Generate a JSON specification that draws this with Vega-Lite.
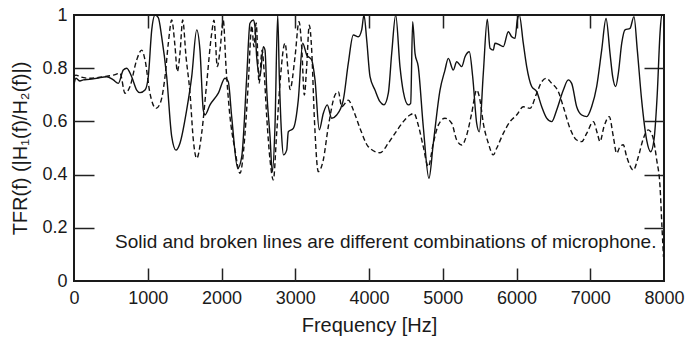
{
  "$schema": "https://vega.github.io/schema/vega-lite/v6.json",
  "width": 590,
  "height": 266,
  "autosize": {"type": "none"},
  "padding": {"left": 74, "top": 15, "right": 22, "bottom": 58},
  "background": "white",
  "datasets": {
    "solid": [
      {"f":0,"v":0.74},{"f":27,"v":0.762},{"f":81,"v":0.752},{"f":126,"v":0.756},{"f":210,"v":0.758},{"f":308,"v":0.762},{"f":443,"v":0.768},{"f":533,"v":0.756},{"f":601,"v":0.743},{"f":668,"v":0.793},{"f":715,"v":0.8},{"f":782,"v":0.768},{"f":850,"v":0.718},{"f":895,"v":0.708},{"f":963,"v":0.718},{"f":1007,"v":0.768},{"f":1054,"v":0.944},{"f":1098,"v":1.0},{"f":1143,"v":0.99},{"f":1189,"v":0.918},{"f":1257,"v":0.768},{"f":1325,"v":0.543},{"f":1383,"v":0.492},{"f":1437,"v":0.518},{"f":1528,"v":0.643},{"f":1596,"v":0.768},{"f":1664,"v":0.944},{"f":1708,"v":0.868},{"f":1753,"v":0.643},{"f":1776,"v":0.624},{"f":1844,"v":0.662},{"f":1957,"v":0.706},{"f":2047,"v":0.762},{"f":2092,"v":0.749},{"f":2138,"v":0.618},{"f":2220,"v":0.424},{"f":2274,"v":0.467},{"f":2342,"v":0.768},{"f":2386,"v":0.969},{"f":2431,"v":0.981},{"f":2454,"v":0.956},{"f":2477,"v":0.843},{"f":2522,"v":0.768},{"f":2567,"v":0.881},{"f":2590,"v":0.868},{"f":2613,"v":0.718},{"f":2658,"v":0.543},{"f":2689,"v":0.41},{"f":2725,"v":0.58},{"f":2762,"v":1.0},{"f":2784,"v":0.768},{"f":2816,"v":0.543},{"f":2840,"v":0.474},{"f":2884,"v":0.492},{"f":2906,"v":0.561},{"f":2974,"v":0.574},{"f":3041,"v":0.68},{"f":3101,"v":0.894},{"f":3155,"v":0.85},{"f":3223,"v":0.831},{"f":3268,"v":0.756},{"f":3326,"v":0.568},{"f":3380,"v":0.63},{"f":3434,"v":0.662},{"f":3494,"v":0.612},{"f":3562,"v":0.624},{"f":3651,"v":0.68},{"f":3719,"v":0.818},{"f":3787,"v":0.925},{"f":3855,"v":0.918},{"f":3901,"v":0.944},{"f":3932,"v":1.0},{"f":3969,"v":0.906},{"f":4014,"v":0.768},{"f":4081,"v":0.718},{"f":4149,"v":0.674},{"f":4203,"v":0.662},{"f":4262,"v":0.706},{"f":4308,"v":0.856},{"f":4362,"v":1.0},{"f":4420,"v":0.806},{"f":4465,"v":0.712},{"f":4533,"v":0.662},{"f":4565,"v":0.668},{"f":4592,"v":0.975},{"f":4624,"v":0.856},{"f":4668,"v":0.806},{"f":4736,"v":0.58},{"f":4813,"v":0.386},{"f":4872,"v":0.518},{"f":4963,"v":0.718},{"f":5030,"v":0.793},{"f":5075,"v":0.837},{"f":5143,"v":0.793},{"f":5189,"v":0.824},{"f":5257,"v":0.806},{"f":5302,"v":0.843},{"f":5360,"v":0.862},{"f":5406,"v":0.768},{"f":5460,"v":0.593},{"f":5495,"v":0.561},{"f":5550,"v":0.781},{"f":5604,"v":0.984},{"f":5641,"v":0.875},{"f":5685,"v":0.868},{"f":5708,"v":0.894},{"f":5776,"v":0.887},{"f":5821,"v":0.881},{"f":5889,"v":0.937},{"f":5935,"v":0.918},{"f":5980,"v":0.912},{"f":6011,"v":0.981},{"f":6038,"v":1.0},{"f":6092,"v":0.894},{"f":6138,"v":0.806},{"f":6206,"v":0.731},{"f":6274,"v":0.712},{"f":6342,"v":0.655},{"f":6409,"v":0.612},{"f":6477,"v":0.599},{"f":6545,"v":0.643},{"f":6635,"v":0.718},{"f":6702,"v":0.756},{"f":6748,"v":0.743},{"f":6816,"v":0.655},{"f":6884,"v":0.624},{"f":6952,"v":0.618},{"f":7019,"v":0.655},{"f":7087,"v":0.731},{"f":7155,"v":0.868},{"f":7214,"v":0.987},{"f":7268,"v":0.856},{"f":7304,"v":0.768},{"f":7345,"v":0.731},{"f":7381,"v":0.781},{"f":7427,"v":0.894},{"f":7471,"v":0.944},{"f":7539,"v":0.95},{"f":7593,"v":0.994},{"f":7638,"v":0.868},{"f":7697,"v":0.68},{"f":7765,"v":0.53},{"f":7820,"v":0.486},{"f":7864,"v":0.53},{"f":7909,"v":0.706},{"f":7946,"v":0.931},{"f":7969,"v":1.0},{"f":8000,"v":1.0}
    ],
    "dashed": [
      {"f":0,"v":0.77},{"f":27,"v":0.774},{"f":81,"v":0.768},{"f":217,"v":0.762},{"f":397,"v":0.768},{"f":533,"v":0.774},{"f":624,"v":0.781},{"f":692,"v":0.706},{"f":759,"v":0.731},{"f":850,"v":0.831},{"f":918,"v":0.868},{"f":963,"v":0.831},{"f":1030,"v":0.706},{"f":1112,"v":0.649},{"f":1176,"v":0.674},{"f":1234,"v":0.768},{"f":1279,"v":0.894},{"f":1325,"v":0.981},{"f":1370,"v":0.881},{"f":1401,"v":0.787},{"f":1437,"v":0.856},{"f":1474,"v":0.981},{"f":1519,"v":0.843},{"f":1573,"v":0.706},{"f":1618,"v":0.53},{"f":1664,"v":0.461},{"f":1731,"v":0.555},{"f":1799,"v":0.743},{"f":1867,"v":0.931},{"f":1898,"v":0.98},{"f":1943,"v":0.806},{"f":1980,"v":0.868},{"f":2024,"v":0.98},{"f":2061,"v":0.806},{"f":2106,"v":0.643},{"f":2183,"v":0.492},{"f":2251,"v":0.405},{"f":2319,"v":0.555},{"f":2363,"v":0.743},{"f":2410,"v":0.96},{"f":2440,"v":0.88},{"f":2470,"v":0.97},{"f":2510,"v":0.743},{"f":2550,"v":0.868},{"f":2575,"v":0.8},{"f":2613,"v":0.618},{"f":2658,"v":0.455},{"f":2703,"v":0.38},{"f":2748,"v":0.556},{"f":2793,"v":0.743},{"f":2861,"v":0.894},{"f":2906,"v":0.78},{"f":2929,"v":0.72},{"f":2997,"v":0.843},{"f":3051,"v":0.975},{"f":3087,"v":0.881},{"f":3123,"v":0.699},{"f":3155,"v":0.806},{"f":3190,"v":0.962},{"f":3223,"v":0.868},{"f":3258,"v":0.618},{"f":3313,"v":0.411},{"f":3380,"v":0.455},{"f":3448,"v":0.58},{"f":3539,"v":0.699},{"f":3584,"v":0.712},{"f":3630,"v":0.655},{"f":3719,"v":0.68},{"f":3787,"v":0.643},{"f":3878,"v":0.574},{"f":3990,"v":0.505},{"f":4149,"v":0.482},{"f":4262,"v":0.518},{"f":4352,"v":0.555},{"f":4465,"v":0.599},{"f":4556,"v":0.624},{"f":4610,"v":0.63},{"f":4668,"v":0.586},{"f":4736,"v":0.505},{"f":4804,"v":0.43},{"f":4872,"v":0.518},{"f":4940,"v":0.586},{"f":5030,"v":0.612},{"f":5121,"v":0.593},{"f":5189,"v":0.53},{"f":5257,"v":0.511},{"f":5325,"v":0.549},{"f":5392,"v":0.63},{"f":5460,"v":0.718},{"f":5505,"v":0.68},{"f":5550,"v":0.593},{"f":5618,"v":0.518},{"f":5685,"v":0.474},{"f":5731,"v":0.499},{"f":5821,"v":0.555},{"f":5912,"v":0.599},{"f":6002,"v":0.624},{"f":6092,"v":0.655},{"f":6183,"v":0.649},{"f":6274,"v":0.706},{"f":6342,"v":0.749},{"f":6400,"v":0.762},{"f":6477,"v":0.743},{"f":6567,"v":0.712},{"f":6635,"v":0.655},{"f":6725,"v":0.574},{"f":6816,"v":0.53},{"f":6884,"v":0.524},{"f":6952,"v":0.555},{"f":7042,"v":0.599},{"f":7096,"v":0.555},{"f":7132,"v":0.524},{"f":7186,"v":0.58},{"f":7258,"v":0.618},{"f":7313,"v":0.543},{"f":7358,"v":0.48},{"f":7403,"v":0.505},{"f":7448,"v":0.512},{"f":7494,"v":0.467},{"f":7584,"v":0.417},{"f":7652,"v":0.467},{"f":7720,"v":0.536},{"f":7788,"v":0.568},{"f":7847,"v":0.543},{"f":7901,"v":0.455},{"f":7946,"v":0.355},{"f":7973,"v":0.2},{"f":7993,"v":0.09}
    ],
    "note": [
      {"label": "Solid and broken lines are different combinations of microphone."}
    ]
  },
  "layer": [
    {
      "data": {"name": "solid"},
      "mark": {"type": "line", "color": "#111", "strokeWidth": 1.4, "interpolate": "monotone", "clip": true},
      "encoding": {
        "x": {"field": "f", "type": "quantitative", "scale": {"domain": [0, 8000], "nice": false},
          "axis": {"orient": "bottom", "values": [0,1000,2000,3000,4000,5000,6000,7000,8000], "format": "d", "labelFlush": false, "labelOverlap": false, "ticks": false, "labelPadding": 8, "title": "Frequency [Hz]", "titlePadding": 8}},
        "y": {"field": "v", "type": "quantitative", "scale": {"domain": [0, 1], "nice": false},
          "axis": {"orient": "left", "values": [0,0.2,0.4,0.6,0.8,1], "format": "~g", "labelFlush": false, "labelOverlap": false, "ticks": false, "labelPadding": 7, "title": "TFR(f) (|H₁(f)/H₂(f)|)", "titlePadding": 11}}
      }
    },
    {
      "data": {"name": "dashed"},
      "mark": {"type": "line", "color": "#111", "strokeWidth": 1.4, "strokeDash": [5, 3], "interpolate": "monotone", "clip": true},
      "encoding": {
        "x": {"field": "f", "type": "quantitative",
          "axis": {"orient": "top", "values": [1000,2000,3000,4000,5000,6000,7000], "labels": false, "tickSize": -13, "title": null}},
        "y": {"field": "v", "type": "quantitative",
          "axis": {"orient": "right", "values": [0.2,0.4,0.6,0.8], "labels": false, "tickSize": -20, "title": null}}
      }
    },
    {
      "data": {"name": "note"},
      "mark": {"type": "text", "align": "right", "baseline": "alphabetic", "fontSize": 19, "font": "Liberation Sans", "color": "#1a1a1a"},
      "encoding": {
        "text": {"field": "label", "type": "nominal"},
        "x": {"datum": 7898, "type": "quantitative",
          "axis": {"orient": "bottom", "values": [1000,2000,3000,4000,5000,6000,7000], "labels": false, "tickSize": -13, "title": null}},
        "y": {"datum": 0.125, "type": "quantitative",
          "axis": {"orient": "left", "values": [0.2,0.4,0.6,0.8], "labels": false, "tickSize": -20, "title": null}}
      }
    }
  ],
  "resolve": {"axis": {"x": "independent", "y": "independent"}},
  "config": {
    "font": "Liberation Sans",
    "view": {"stroke": "#1a1a1a", "strokeWidth": 2},
    "axis": {
      "domain": false, "grid": false,
      "tickColor": "#222", "tickWidth": 1.5,
      "labelFontSize": 18, "labelColor": "#1a1a1a", "labelFont": "Liberation Sans",
      "titleFontSize": 20, "titleColor": "#1a1a1a", "titleFontWeight": "normal", "titleFont": "Liberation Sans"
    }
  }
}
